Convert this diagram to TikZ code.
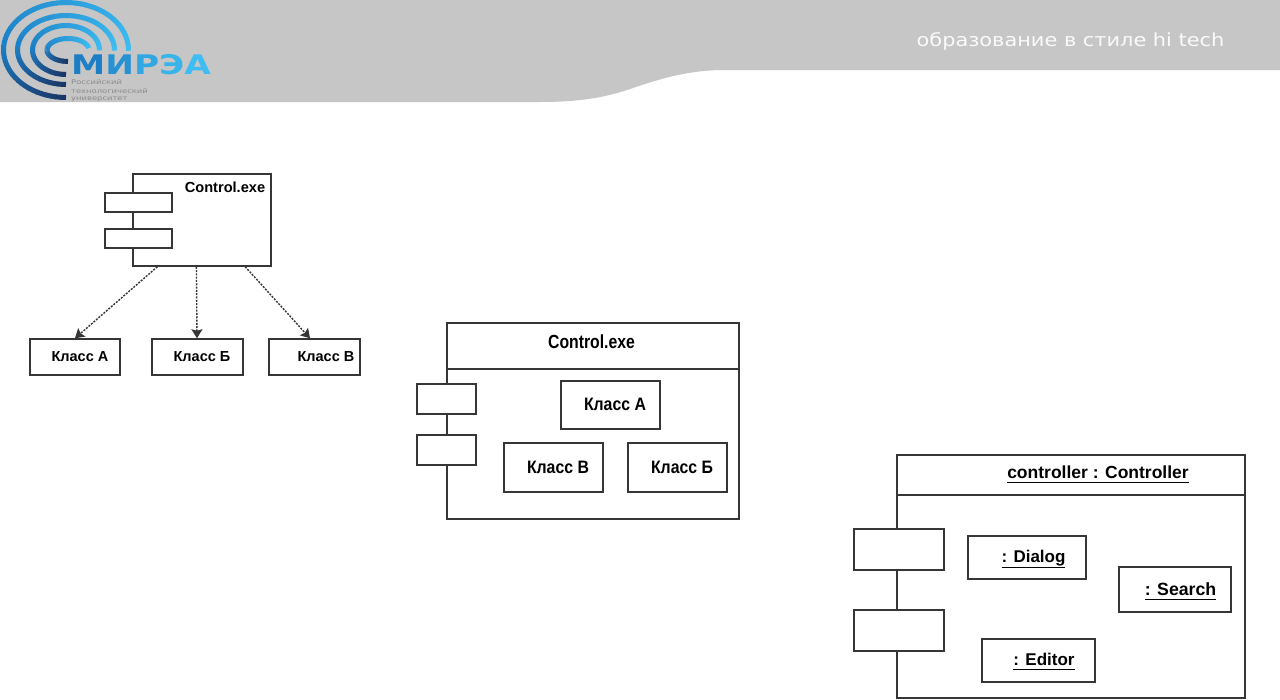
\documentclass[tikz,border=0pt]{standalone}
\usepackage{fontspec}
\setmainfont{Liberation Sans}
\newfontfamily\sloganfont{DejaVu Sans}
\newfontfamily\logofont{DejaVu Sans}
\usetikzlibrary{calc,arrows.meta}
\definecolor{bandgray}{HTML}{C6C6C6}
\definecolor{lineink}{HTML}{363636}
\definecolor{logoA}{HTML}{1A3566}
\definecolor{logoB}{HTML}{1C7FC6}
\definecolor{logoC}{HTML}{3DBDF2}
\tikzset{
  umlbox/.style={draw=lineink,fill=white,line width=1.5pt,inner sep=0pt},
  sepline/.style={draw=lineink,line width=1.5pt},
  dep/.style={draw=lineink,line width=1.4pt,dash pattern=on 2pt off 1.3pt,-{Stealth[length=9pt,width=11pt,inset=1.5pt]}},
  lab/.style={inner sep=0pt,font=\bfseries,text=black},
  ulab/.style={inner sep=0pt,anchor=base,text=black},
  subtext/.style={inner sep=0pt,anchor=north west,text=black!30!bandgray,font=\logofont\fontsize{6.5}{7}\selectfont},
}
\newcommand\umlrect[5]{\node[umlbox,minimum width={(#4-#2)*1pt},minimum height={(#5-#3)*1pt}] (#1) at ({(#2+#4)/2},{(#3+#5)/2}) {};}
\newcommand\ulfont[1]{\bfseries\fontsize{#1}{19}\selectfont}
\newcommand\deep{\rule[-3pt]{0pt}{1pt}}
\newcommand\logoarc[7]{%
  \foreach \s in {0,...,59}{%
    \pgfmathsetmacro\aa{#5+(#6-#5)*\s/60}%
    \pgfmathsetmacro\ab{#5+(#6-#5)*(\s+1.2)/60}%
    \pgfmathsetmacro\tt{\s/59}%
    \pgfmathsetmacro\pa{min(100,100*\tt/0.35)}%
    \pgfmathsetmacro\pb{max(0,100*(\tt-0.35)/0.65)}%
    \colorlet{segc}{logoB!\pa!logoA}%
    \ifdim\pb pt>0pt \colorlet{segc}{logoC!\pb!logoB}\fi
    \draw[segc,line width=#7pt] ({#1+#3*cos(\aa)},{#2+#4*sin(\aa)}) -- ({#1+#3*cos(\ab)},{#2+#4*sin(\ab)});
  }}
\begin{document}
\begin{tikzpicture}[x=1pt,y=-1pt]
\useasboundingbox (0,0) rectangle (1280,699);
\fill[white] (0,0) rectangle (1280,699);
% header band
\fill[bandgray] (0,0) -- (1280,0) -- (1280,70) -- (725,70)
  .. controls (692,70) and (665,77) .. (633,88)
  .. controls (610,96) and (585,102) .. (540,102) -- (0,102) -- cycle;
\node[inner sep=0pt,text=white!92!bandgray,font=\sloganfont\fontsize{18}{20}\selectfont] (slogan) at (1070.5,41) {\scalebox{1.16}[1]{образование в стиле hi tech}};
% logo
\logoarc{66}{50}{62.5}{47.5}{90}{360}{5}
\logoarc{66}{50}{48.5}{34.5}{90}{360}{5}
\logoarc{66}{50}{33.5}{24.5}{90}{360}{5}
\logoarc{68}{50}{21}{11.5}{90}{350}{5}
\node[inner sep=0pt,anchor=base west,font=\logofont\bfseries\fontsize{27}{27}\selectfont] (logotext) at (71,74) {\scalebox{1.27}[1]{\textcolor{logoB}{М}\textcolor{logoB!70!logoC}{И}\textcolor{logoB!35!logoC}{Р}\textcolor{logoB!15!logoC}{Э}\textcolor{logoC}{А}}};
\node[subtext] (logosubA) at (71,79) {\scalebox{1.29}[1]{Российский}};
\node[subtext] (logosubB) at (71,88) {\scalebox{1.29}[1]{технологический}};
\node[subtext] (logosubC) at (71,96.5) {\scalebox{1.29}[1]{университет}};
% diagram 1
\umlrect{comp}{133}{174}{271}{266}
\umlrect{portA}{105}{193}{172}{212}
\umlrect{portB}{105}{229}{172}{248}
\umlrect{clsA}{30}{339}{120}{375}
\umlrect{clsB}{152}{339}{243}{375}
\umlrect{clsC}{269}{339}{360}{375}
\node[lab,font=\bfseries\fontsize{14.6}{15}\selectfont] (compt) at (225,187) {Control.exe};
\node[lab,font=\bfseries\fontsize{14.5}{15}\selectfont] (clsAt) at (80,356.5) {Класс А};
\node[lab,font=\bfseries\fontsize{14.5}{15}\selectfont] (clsBt) at (202,356.5) {Класс Б};
\node[lab,font=\bfseries\fontsize{14.5}{15}\selectfont] (clsCt) at (326,356.5) {Класс В};
\draw[dep] ($(comp.south west)!0.18!(comp.south east)$) -- (clsA.north);
\draw[dep] ($(comp.south west)!0.46!(comp.south east)$) -- ($(clsB.north)+(-0.5,0)$);
\draw[dep] ($(comp.south west)!0.81!(comp.south east)$) -- ($(clsC.north)+(-4.5,0)$);
% diagram 2
\umlrect{outerB}{447}{323}{739}{519}
\draw[sepline] (outerB.west |- 0,369) coordinate (sepBl) -- (outerB.east |- 0,369) coordinate (sepBr);
\umlrect{portC}{417}{384}{476}{414}
\umlrect{portD}{417}{435}{476}{465}
\umlrect{inA}{561}{381}{660}{429}
\umlrect{inV}{504}{443}{603}{492}
\umlrect{inB}{628}{443}{727}{492}
\node[lab,font=\bfseries\fontsize{19}{21}\selectfont] (outerBt) at (591.5,342) {\scalebox{0.83}[1]{Control.exe}};
\node[lab,font=\bfseries\fontsize{18}{21}\selectfont] (inAt) at (615,404) {\scalebox{0.88}[1]{Класс А}};
\node[lab,font=\bfseries\fontsize{18}{21}\selectfont] (inVt) at (558,467) {\scalebox{0.88}[1]{Класс В}};
\node[lab,font=\bfseries\fontsize{18}{21}\selectfont] (inBt) at (682,467) {\scalebox{0.88}[1]{Класс Б}};
% diagram 3
\umlrect{outerC}{897}{455}{1245}{698}
\draw[sepline] (outerC.west |- 0,495) coordinate (sepCl) -- (outerC.east |- 0,495) coordinate (sepCr);
\umlrect{portE}{854}{529}{944}{570}
\umlrect{portF}{854}{610}{944}{651}
\umlrect{objD}{968}{536}{1086}{579}
\umlrect{objS}{1119}{567}{1231}{612}
\umlrect{objE}{982}{639}{1095}{682}
\node[ulab,font=\ulfont{17.5}] (outerCt) at (1098,478) {\underline{controller : Controller\deep}};
\node[ulab,font=\ulfont{17}] (objDt) at (1033.5,562) {\underline{: Dialog}};
\node[ulab,font=\ulfont{17.7}] (objSt) at (1180.5,595) {\underline{: Search\deep}};
\node[ulab,font=\ulfont{17}] (objEt) at (1044,665) {\underline{: Editor\deep}};
\end{tikzpicture}
\end{document}
